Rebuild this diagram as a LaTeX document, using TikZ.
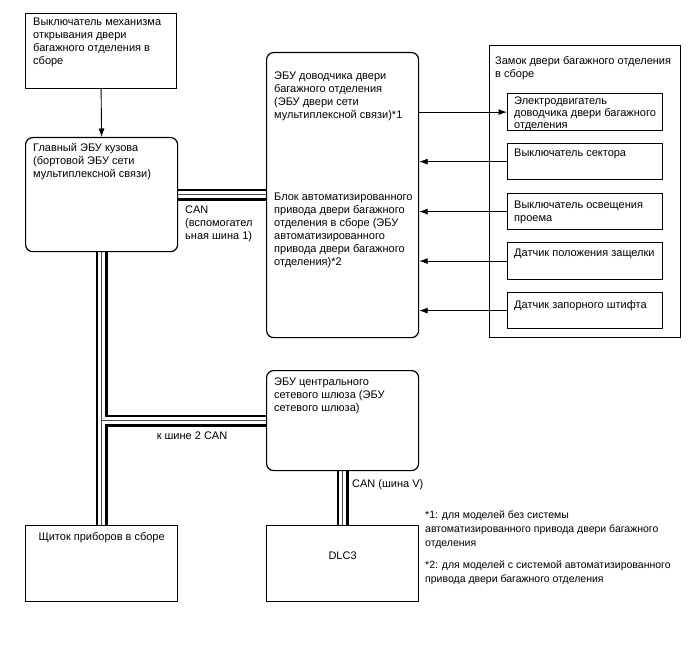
\documentclass[tikz,border=0pt]{standalone}
\usepackage{fontspec}
\setmainfont{Liberation Sans}
\usetikzlibrary{arrows.meta,positioning,backgrounds}

\tikzset{
  box/.style={draw, line width=1.2pt, fill=white, inner sep=0pt, anchor=north west},
  ecu/.style={box, rounded corners=7pt},
  txt/.style={anchor=north west, inner sep=0pt, align=left, font=\fontsize{11}{13}\selectfont},
  note/.style={txt, font=\fontsize{10.5}{13.7}\selectfont},
  arr/.style={line width=0.9pt, -{Latex[length=8.5pt,width=6pt]}},
  busout/.style={line width=12pt, black},
  busin/.style={line width=7.5pt, white},
  buscore/.style={line width=0.7pt, black!70},
}

\begin{document}
\begin{tikzpicture}[x=1pt, y=-1pt]
  \useasboundingbox (0,0) rectangle (688,658);

  % Left column
  \node[box, minimum width=151pt, minimum height=75pt] (sw) at (25,13) {};
  \node[ecu, minimum width=152pt, minimum height=114pt] (bcm) at (25,137) {};
  \node[box, minimum width=152pt, minimum height=76pt] (meter) at (25,525) {};

  % Middle column
  \node[ecu, minimum width=152pt, minimum height=285pt] (door) at (266,52) {};
  \node[ecu, minimum width=152pt, minimum height=100pt] (gw) at (266,370) {};
  \node[box, minimum width=152pt, minimum height=76pt] (dlc) at (266,525) {};

  % Lock assembly and its parts
  \node[box, minimum width=191pt, minimum height=292pt] (lock) at (489,45) {};
  \node[box, minimum width=155pt, minimum height=37pt] (motor) at (507,93) {};
  \node[box, minimum width=155pt, minimum height=36pt] (sector) at (507,143) {};
  \node[box, minimum width=155pt, minimum height=36pt] (courtesy) at (507,193) {};
  \node[box, minimum width=155pt, minimum height=37pt] (latch) at (507,242) {};
  \node[box, minimum width=155pt, minimum height=36pt] (striker) at (507,292) {};

  % Texts in boxes
  \node[txt] (swtxt) at ([xshift=8pt,yshift=-4.5pt]sw.north west)
    {Выключатель механизма\\открывания двери\\багажного отделения в\\сборе};
  \node[txt] (bcmtxt) at ([xshift=8pt,yshift=-6.5pt]bcm.north west)
    {Главный ЭБУ кузова\\(бортовой ЭБУ сети\\мультиплексной связи)};
  \node[txt] (doortxt) at ([xshift=8pt,yshift=-19.5pt]door.north west)
    {ЭБУ доводчика двери\\багажного отделения\\(ЭБУ двери сети\\мультиплексной связи)*1};
  \node[txt] (pbdtxt) at ([xshift=8pt,yshift=-140.5pt]door.north west)
    {Блок автоматизированного\\привода двери багажного\\отделения в сборе (ЭБУ\\автоматизированного\\привода двери багажного\\отделения)*2};
  \node[txt] (locktxt) at ([xshift=6pt,yshift=-11.5pt]lock.north west)
    {Замок двери багажного отделения\\в сборе};
  \node[txt, font=\fontsize{11}{12}\selectfont] (motortxt) at ([xshift=7pt,yshift=-3.5pt]motor.north west)
    {Электродвигатель\\доводчика двери багажного\\отделения};
  \node[txt] (sectortxt) at ([xshift=7pt,yshift=-6pt]sector.north west)
    {Выключатель сектора};
  \node[txt] (courtesytxt) at ([xshift=7pt,yshift=-7.5pt]courtesy.north west)
    {Выключатель освещения\\проема};
  \node[txt] (latchtxt) at ([xshift=7pt,yshift=-7pt]latch.north west)
    {Датчик положения защелки};
  \node[txt] (strikertxt) at ([xshift=7pt,yshift=-8.5pt]striker.north west)
    {Датчик запорного штифта};
  \node[txt] (gwtxt) at ([xshift=8pt,yshift=-8pt]gw.north west)
    {ЭБУ центрального\\сетевого шлюза (ЭБУ\\сетевого шлюза)};
  \node[txt, anchor=north] (metertxt) at ([yshift=-7pt]meter.north)
    {Щиток приборов в сборе};
  \node[txt, anchor=center] (dlctxt) at ([yshift=8pt]dlc.center) {DLC3};

  % Bus labels
  \node[txt] (canaux) at (185,206) {CAN\\(вспомогател\\ьная шина 1)};
  \node[txt, anchor=center] (can2) at (192,436) {к шине 2 CAN};
  \node[txt, anchor=west] (canv) at (352,485) {CAN (шина V)};

  % Footnotes
  \node[note] (fn1) at (425,511)
    {*1: для моделей без системы\\автоматизированного привода двери багажного\\отделения};
  \node[note, below=12pt of fn1.south west, anchor=north west] (fn2)
    {*2: для моделей с системой автоматизированного\\привода двери багажного отделения};

  % Signal lines
  \draw[arr] (sw.south) -- (bcm.north);
  \draw[arr] (motor.west -| door.east) -- (motor.west);
  \foreach \part in {sector,courtesy,latch,striker}
    \draw[arr] (\part.west) -- (\part.west -| door.east);

  % CAN buses
  \begin{scope}[on background layer]
    \foreach \lay in {busout,busin,buscore}
      \draw[\lay] (bcm.east) -- (bcm.east -| door.west)
        (bcm.south) -- (meter.north)
        (bcm.south |- gw.west) -- (gw.west)
        (gw.south) -- (dlc.north);
  \end{scope}

\end{tikzpicture}
\end{document}
